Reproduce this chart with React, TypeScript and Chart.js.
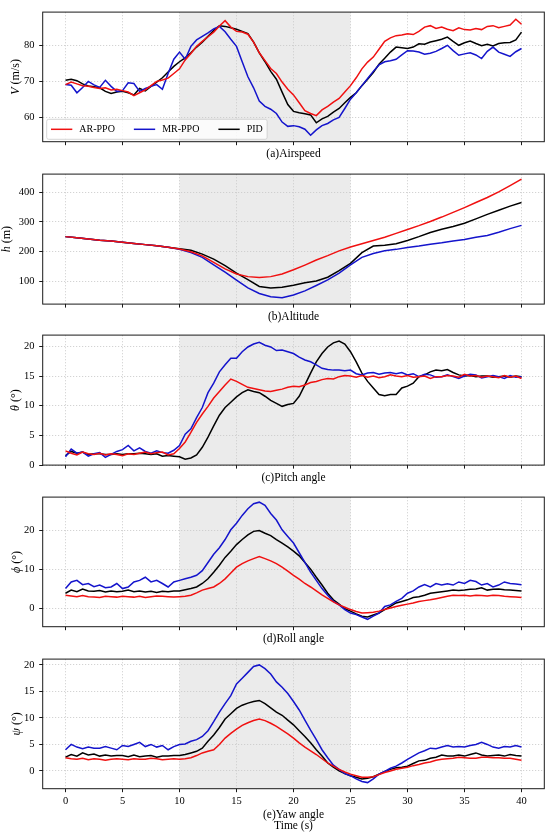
import React, { useEffect, useRef } from 'react';
import { Chart, registerables } from 'chart.js';

Chart.register(...registerables);

const FONT = '"Liberation Serif", "Times New Roman", "DejaVu Serif", serif';

// sampling grids
const tFine = Array.from({ length: 81 }, (_, i) => i * 0.5);
const tCoarse = Array.from({ length: 41 }, (_, i) => i);
const xTicks = [0, 5, 10, 15, 20, 25, 30, 35, 40];
const shadeSpan = [10, 25];

const seriesNames = ['AR-PPO', 'MR-PPO', 'PID'];
const seriesColors = ['#f01010', '#1414cc', '#000000'];

// (a) airspeed, m/s
const airspeedAR = [
  69.1, 69.8, 69.3, 68.8, 68.6, 68.3, 68.0, 68.2, 67.6, 67.8,
  67.4, 67.0, 66.0, 66.8, 67.6, 68.8, 70.0, 70.4, 70.9, 72.2,
  73.5, 76.0, 77.8, 79.8, 81.2, 82.5, 83.8, 85.5, 87.0, 85.2,
  84.0, 83.8, 83.2, 81.0, 78.0, 75.8, 73.6, 72.2, 69.8, 67.8,
  66.2, 64.0, 61.8, 61.0, 60.4, 62.0, 63.0, 64.2, 65.2, 67.0,
  68.8, 71.0, 73.5, 75.4, 76.8, 79.0, 81.2, 82.2, 82.8, 83.0,
  83.3, 83.1, 84.0, 85.2, 85.6, 84.8, 85.2, 84.6, 84.2, 85.0,
  84.5, 84.4, 84.8, 84.5, 85.4, 85.6, 85.0, 85.4, 85.8, 87.4,
  86.0,
];
const airspeedMR = [
  69.1, 68.9, 66.8, 68.3, 70.0, 69.0, 68.3, 70.3, 68.6, 67.2,
  67.4, 69.6, 69.4, 67.2, 68.0, 68.6, 69.1, 67.8, 72.2, 76.2,
  78.2, 76.2, 79.8, 81.6, 82.6, 83.6, 84.7, 85.4, 83.9, 81.8,
  79.8, 75.5, 71.3, 68.2, 64.5, 63.0, 62.2, 61.0, 58.6, 57.4,
  57.6, 57.3, 56.6, 54.9, 56.4, 57.6, 58.2, 59.2, 59.9, 62.4,
  65.0, 66.8, 68.8, 70.8, 72.8, 74.6, 75.5, 75.8, 76.2, 77.4,
  78.6, 78.5, 78.2, 77.6, 77.9, 78.4, 79.2, 80.1, 78.6, 77.3,
  77.7, 78.0, 77.4, 76.4, 78.4, 79.6, 78.2, 77.6, 77.0, 78.3,
  79.2,
];
const airspeedPID = [
  70.3, 70.6, 70.2, 69.3, 68.7, 68.5, 68.2, 67.2, 66.6, 67.0,
  67.2, 66.8, 66.2, 68.0, 67.3, 68.6, 69.8, 71.0, 72.6, 74.2,
  75.5, 76.6, 78.0, 79.6, 81.0, 82.6, 84.2, 85.6, 85.4, 85.0,
  84.6, 84.0, 83.4, 81.0, 78.0, 75.5, 72.8, 70.6, 67.0, 63.5,
  61.6, 61.2, 60.9, 60.6, 58.4, 59.5, 60.2, 61.4, 62.4, 64.0,
  65.5, 66.8, 68.8, 70.6, 72.5, 74.8, 76.5, 78.2, 79.6, 79.4,
  79.2, 79.6, 80.5, 80.4, 81.0, 81.4, 81.8, 82.4, 81.2, 80.1,
  80.8, 81.3, 80.6, 80.0, 80.4, 79.9, 80.6, 80.8, 80.9, 81.6,
  83.8,
];

// (b) altitude, m (1 s steps)
const altitudeAR = [
  250, 246, 242, 238, 235, 231, 227, 223, 219, 214,
  208, 199, 185, 163, 141, 124, 115, 112, 115, 124,
  138, 154, 171, 186, 202, 215, 226, 237, 248, 261,
  274, 287, 301, 316, 332, 348, 365, 382, 401, 422,
  444,
];
const altitudeMR = [
  250, 246, 242, 238, 235, 231, 227, 223, 219, 214,
  207, 196, 180, 155, 130, 103, 77, 58, 47, 44,
  53, 67, 85, 104, 127, 155, 180, 193, 202, 207,
  213, 218, 224, 229, 235, 240, 248, 254, 265, 277,
  288,
];
const altitudePID = [
  250, 246, 242, 238, 235, 231, 227, 223, 219, 214,
  209, 204, 191, 174, 152, 127, 105, 82, 77, 79,
  86, 94, 100, 113, 135, 160, 196, 218, 221, 226,
  237, 250, 264, 275, 284, 295, 310, 325, 339, 353,
  365,
];

// (c) pitch angle, deg
const pitchAR = [
  2.4, 2.0, 1.7, 2.2, 1.9, 1.8, 2.0, 1.7, 1.9, 1.8,
  1.6, 1.9, 1.8, 2.0, 2.2, 1.9, 2.1, 2.2, 1.7, 1.9,
  2.8, 3.9, 5.5, 7.2, 8.6, 9.9, 11.3, 12.4, 13.5, 14.5,
  14.1, 13.6, 13.1, 12.9, 12.7, 12.5, 12.4, 12.6, 12.8, 13.1,
  13.3, 13.2, 13.5, 13.9, 14.1, 14.4, 14.6, 14.5, 14.9, 15.1,
  15.0, 14.8, 15.1, 14.8, 15.0, 14.7, 14.9, 15.2, 15.0, 14.9,
  15.1, 14.8, 14.9, 15.0, 14.6, 14.9, 14.9, 15.1, 15.0, 14.8,
  15.3, 15.0, 15.1, 14.8, 15.0, 14.9, 14.7, 15.1, 14.8, 15.0,
  14.6,
];
const pitchMR = [
  1.4, 2.7, 2.0, 2.2, 1.5, 1.9, 2.1, 1.3, 1.8, 2.3,
  2.6, 3.3, 2.4, 2.9, 2.3, 2.0, 2.4, 2.1, 2.0, 2.5,
  3.3, 5.2, 6.1, 8.0, 9.7, 12.2, 13.8, 15.7, 16.9, 18.0,
  18.0, 19.1, 19.9, 20.4, 20.7, 20.2, 19.9, 19.3, 19.4, 19.1,
  18.8, 18.2, 17.7, 17.4, 16.9, 16.3, 16.1, 16.0, 16.0, 15.9,
  16.0, 15.4, 15.2, 15.5, 15.6, 15.3, 15.5, 15.6, 15.4, 15.6,
  15.2, 15.4, 14.9, 15.3, 15.2, 14.8, 14.9, 15.2, 14.9, 14.6,
  15.0, 15.3, 15.2, 14.7, 14.9, 15.1, 14.9, 14.6, 15.1, 14.8,
  14.9,
];
const pitchPID = [
  1.6, 2.3, 2.0, 2.2, 1.8, 1.9, 1.9, 1.8, 1.8, 1.9,
  1.8, 1.9, 1.9, 2.0, 1.9, 1.8, 1.9, 1.5, 1.6, 1.5,
  1.4, 1.0, 1.2, 1.7, 3.0, 4.7, 6.6, 8.4, 9.7, 10.6,
  11.5, 12.2, 12.7, 12.4, 12.2, 11.6, 10.9, 10.4, 9.9, 10.2,
  10.4, 11.6, 13.5, 15.5, 17.4, 18.8, 19.9, 20.6, 20.9, 20.4,
  19.1, 17.4, 15.5, 14.1, 13.0, 11.9, 11.7, 11.9, 11.9, 13.0,
  13.3, 13.8, 14.9, 15.2, 15.7, 16.0, 15.9, 16.1, 15.6, 15.2,
  15.0, 15.1, 14.9, 15.0, 15.0, 14.8, 14.9, 15.0, 14.8, 15.0,
  14.9,
];

// (d) roll angle, deg
const rollAR = [
  3.3, 3.1, 2.9, 3.2, 2.9, 2.8, 2.7, 3.0, 2.9, 2.8,
  3.0, 2.9, 2.8, 3.0, 2.7, 2.9, 3.1, 3.0, 2.9, 2.8,
  2.9, 3.0, 3.3, 3.9, 4.6, 5.0, 5.4, 6.3, 7.5, 9.0,
  10.5, 11.4, 12.1, 12.7, 13.2, 12.7, 12.1, 11.4, 10.5, 9.5,
  8.4, 7.4, 6.3, 5.4, 4.4, 3.4, 2.5, 1.6, 0.8, 0.2,
  -0.4, -0.9, -1.3, -1.2, -1.1, -0.8, -0.4, 0.0, 0.4, 0.7,
  1.0, 1.3, 1.7, 1.9, 2.1, 2.4, 2.7, 3.0, 3.3, 3.2,
  3.3, 3.1, 3.3, 3.2, 3.1, 3.3, 3.2, 3.0, 2.9, 2.8,
  2.7,
];
const rollMR = [
  5.0, 6.7, 7.1, 6.0, 6.3, 5.5, 5.9, 5.2, 5.4, 6.3,
  5.0, 5.4, 6.7, 7.1, 7.9, 6.7, 7.1, 6.3, 5.4, 6.7,
  7.1, 7.5, 7.9, 8.4, 9.6, 11.7, 13.8, 15.5, 17.6, 20.1,
  21.8, 23.8, 25.5, 26.8, 27.2, 26.4, 24.3, 22.6, 20.1, 18.4,
  16.7, 14.2, 11.7, 9.2, 7.1, 5.0, 3.3, 1.7, 0.8, -0.4,
  -1.3, -1.7, -2.3, -2.9, -2.1, -1.3, 0.4, 0.8, 1.7, 2.5,
  3.8, 4.4, 5.4, 6.0, 5.4, 6.3, 5.9, 6.2, 5.9, 6.7,
  6.3, 7.1, 6.8, 5.9, 6.3, 5.4, 5.9, 6.7, 6.3, 6.2,
  6.0,
];
const rollPID = [
  3.8, 4.6, 4.2, 4.9, 4.4, 4.3, 4.5, 4.1, 4.4, 4.2,
  4.3, 4.6, 4.2, 4.4, 4.1, 4.3, 4.0, 4.3, 4.2, 4.4,
  4.4, 4.7, 5.0, 5.4, 6.3, 7.5, 9.2, 11.0, 13.0, 14.6,
  16.3, 17.6, 18.8, 19.7, 19.9, 19.2, 18.6, 17.6, 16.7, 15.7,
  14.6, 13.4, 11.7, 10.0, 7.9, 5.9, 3.8, 2.1, 1.0, -0.2,
  -0.8, -1.5, -2.1, -2.3, -1.8, -1.3, -0.4, 0.4, 1.3, 1.7,
  2.1, 2.7, 2.9, 3.3, 3.8, 4.0, 4.2, 4.4, 4.6, 4.5,
  4.6, 4.8, 4.9, 5.2, 4.6, 4.8, 4.9, 4.7, 4.6, 4.5,
  4.4,
];

// (e) yaw angle, deg
const yawAR = [
  2.5, 2.3, 2.2, 2.4, 2.1, 2.3, 2.2, 2.0, 2.2, 2.3,
  2.2, 2.1, 2.3, 2.2, 2.2, 2.4, 2.3, 2.1, 2.2, 2.3,
  2.2, 2.3, 2.5, 2.9, 3.4, 3.7, 4.0, 5.0, 6.2, 7.1,
  7.9, 8.6, 9.1, 9.5, 9.8, 9.5, 9.0, 8.4, 7.7, 7.0,
  6.2, 5.3, 4.5, 3.8, 3.1, 2.3, 1.5, 0.9, 0.3, -0.2,
  -0.6, -0.9, -1.2, -1.2, -1.1, -0.7, -0.3, 0.0, 0.3, 0.5,
  0.7, 1.0, 1.2, 1.5, 1.7, 2.0, 2.2, 2.3, 2.4, 2.6,
  2.5, 2.4, 2.4, 2.6, 2.6, 2.5, 2.5, 2.4, 2.4, 2.2,
  2.0,
];
const yawMR = [
  4.0, 5.0, 4.5, 4.2, 4.5, 4.3, 4.3, 4.6, 4.3, 4.0,
  4.8, 4.6, 5.0, 5.4, 4.6, 5.0, 4.5, 4.8, 4.0, 4.6,
  5.0, 5.1, 5.6, 5.9, 6.5, 7.6, 9.3, 11.1, 12.7, 14.2,
  16.4, 17.5, 18.6, 19.7, 20.0, 19.3, 18.3, 16.8, 15.8, 14.6,
  13.1, 11.5, 9.6, 7.7, 5.9, 4.0, 2.5, 1.1, 0.3, -0.5,
  -0.9, -1.5, -2.0, -2.2, -1.5, -0.6, -0.1, 0.5, 0.9, 1.5,
  2.2, 2.8, 3.4, 3.8, 4.3, 4.2, 4.5, 4.8, 4.5, 4.6,
  4.5, 4.8, 5.0, 5.4, 5.0, 4.5, 4.3, 4.6, 4.5, 4.8,
  4.5,
];
const yawPID = [
  2.6, 3.1, 2.8, 3.4, 3.0, 3.2, 2.8, 3.0, 2.8, 2.9,
  2.9, 2.7, 3.0, 2.7, 2.8, 2.9, 2.6, 2.8, 2.8, 2.9,
  2.9, 3.1, 3.4, 3.7, 4.3, 5.6, 6.8, 8.2, 9.8, 10.8,
  11.8, 12.4, 12.8, 13.1, 13.3, 12.7, 11.9, 11.1, 10.5, 9.6,
  8.7, 7.6, 6.5, 5.3, 4.0, 2.8, 1.5, 0.7, 0.0, -0.5,
  -0.9, -1.2, -1.5, -1.4, -1.1, -0.6, -0.1, 0.3, 0.6, 0.7,
  0.9, 1.4, 1.9, 2.0, 2.4, 2.6, 3.0, 2.8, 2.8, 3.0,
  2.8, 3.1, 3.4, 3.0, 2.8, 2.9, 3.0, 2.8, 3.1, 2.9,
  2.8,
];

interface PanelDef {
  title: string[];
  symbol: string;
  unit: string;
  labelX: number;
  yMin: number;
  yMax: number;
  yTicks: number[];
  t: number[];
  series: number[][];
  legend?: boolean;
  xLabels?: boolean;
  plotTop: number;
  canvasTop: number;
  canvasH: number;
}

const PLOT_H = 132.4;
const PLOT_LEFT = 42.7;
const PLOT_RIGHT = 544.3;

const panels: PanelDef[] = [
  {
    title: ['(a)Airspeed'], symbol: 'V', unit: ' (m/s)', labelX: 15.5,
    yMin: 53.1, yMax: 89.4, yTicks: [60, 70, 80],
    t: tFine, series: [airspeedAR, airspeedMR, airspeedPID], legend: true,
    plotTop: 9.3, canvasTop: 1, canvasH: 170,
  },
  {
    title: ['(b)Altitude'], symbol: 'h', unit: ' (m)', labelX: 7,
    yMin: 22.3, yMax: 461, yTicks: [100, 200, 300, 400],
    t: tCoarse, series: [altitudeAR, altitudeMR, altitudePID],
    plotTop: 171.7, canvasTop: 163, canvasH: 170,
  },
  {
    title: ['(c)Pitch angle'], symbol: 'θ', unit: ' (°)', labelX: 15.5,
    yMin: 0, yMax: 21.9, yTicks: [0, 5, 10, 15, 20],
    t: tFine, series: [pitchAR, pitchMR, pitchPID],
    plotTop: 332.7, canvasTop: 324, canvasH: 170,
  },
  {
    title: ['(d)Roll angle'], symbol: 'ϕ', unit: ' (°)', labelX: 16.5,
    yMin: -4.8, yMax: 28.5, yTicks: [0, 10, 20],
    t: tFine, series: [rollAR, rollMR, rollPID],
    plotTop: 494.3, canvasTop: 486, canvasH: 170,
  },
  {
    title: ['(e)Yaw angle', 'Time (s)'], symbol: 'ψ', unit: ' (°)', labelX: 16.5,
    yMin: -3.35, yMax: 21.1, yTicks: [0, 5, 10, 15, 20],
    t: tFine, series: [yawAR, yawMR, yawPID], xLabels: true,
    plotTop: 656.3, canvasTop: 648, canvasH: 190,
  },
];

const decorPlugin = (def: PanelDef) => ({
  id: 'decor',
  beforeDraw(chart: any) {
    const { ctx, chartArea: ca, scales } = chart;
    const x0 = scales.x.getPixelForValue(shadeSpan[0]);
    const x1 = scales.x.getPixelForValue(shadeSpan[1]);
    ctx.save();
    ctx.fillStyle = '#ebebeb';
    ctx.fillRect(x0, ca.top, x1 - x0, ca.bottom - ca.top);
    ctx.restore();
  },
  afterDraw(chart: any) {
    const { ctx, chartArea: ca } = chart;
    ctx.save();
    // frame
    ctx.strokeStyle = '#1a1a1a';
    ctx.lineWidth = 1;
    ctx.strokeRect(ca.left, ca.top, ca.right - ca.left, ca.bottom - ca.top);

    // y label: italic symbol + upright unit
    ctx.translate(def.labelX, (ca.top + ca.bottom) / 2);
    ctx.rotate(-Math.PI / 2);
    ctx.fillStyle = '#000';
    ctx.textBaseline = 'middle';
    ctx.textAlign = 'left';
    ctx.font = `italic 12px ${FONT}`;
    const w1 = ctx.measureText(def.symbol).width;
    ctx.font = `12px ${FONT}`;
    const w2 = ctx.measureText(def.unit).width;
    const sx = -(w1 + w2) / 2;
    ctx.font = `italic 12px ${FONT}`;
    ctx.fillText(def.symbol, sx, 0);
    ctx.font = `12px ${FONT}`;
    ctx.fillText(def.unit, sx + w1, 0);
    ctx.restore();

    // panel title(s) under the axis
    ctx.save();
    ctx.fillStyle = '#000';
    ctx.font = `11.5px ${FONT}`;
    ctx.textAlign = 'center';
    ctx.textBaseline = 'middle';
    const cx = (ca.left + ca.right) / 2;
    const firstY = def.xLabels ? ca.bottom + 26 : ca.bottom + 12.5;
    def.title.forEach((line, i) => ctx.fillText(line, cx, firstY + i * 11.5));

    // legend inside the plot, lower left
    if (def.legend) {
      ctx.font = `10px ${FONT}`;
      const pad = 4.3;
      const handle = 21.3;
      const gap = 7;
      const colSp = 19;
      const widths = seriesNames.map((n) => ctx.measureText(n).width);
      const boxW = pad * 2 + widths.reduce((s, w) => s + handle + gap + w, 0) + colSp * (seriesNames.length - 1);
      const boxH = 20;
      const bx = ca.left + 4;
      const by = ca.bottom - 2.4 - boxH;
      ctx.fillStyle = 'rgba(255,255,255,0.8)';
      ctx.strokeStyle = '#cccccc';
      ctx.lineWidth = 0.8;
      ctx.beginPath();
      ctx.roundRect(bx, by, boxW, boxH, 2);
      ctx.fill();
      ctx.stroke();
      let x = bx + pad;
      const cy = by + boxH / 2;
      seriesNames.forEach((name, i) => {
        ctx.strokeStyle = seriesColors[i];
        ctx.lineWidth = 1.5;
        ctx.beginPath();
        ctx.moveTo(x, cy);
        ctx.lineTo(x + handle, cy);
        ctx.stroke();
        ctx.fillStyle = '#000';
        ctx.textAlign = 'left';
        ctx.fillText(name, x + handle + gap, cy + 0.5);
        x += handle + gap + widths[i] + colSp;
      });
    }
    ctx.restore();
  },
});

const Panel: React.FC<{ def: PanelDef }> = ({ def }) => {
  const ref = useRef<HTMLCanvasElement>(null);

  useEffect(() => {
    if (!ref.current) return;
    const padTop = def.plotTop - def.canvasTop;
    const xHeight = def.canvasH - padTop - PLOT_H;
    const grid = {
      color: '#c8c8c8',
      lineWidth: 0.8,
      drawTicks: true,
      tickLength: 3.5,
      tickColor: '#1a1a1a',
      tickWidth: 1,
      tickBorderDash: [],
    };
    // in Chart.js 4 the grid-line dash lives under `border`
    const border = { display: false, dash: [1.2, 1.8] };
    const chart = new Chart(ref.current, {
      type: 'line',
      data: {
        datasets: def.series.map((vals, i) => ({
          label: seriesNames[i],
          data: def.t.map((x, j) => ({ x, y: vals[j] })),
          borderColor: seriesColors[i],
          borderWidth: 1.5,
          pointRadius: 0,
          tension: 0,
          fill: false,
        })),
      },
      options: {
        animation: false,
        responsive: false,
        events: [],
        layout: { padding: { left: 0, right: 550 - PLOT_RIGHT, top: padTop, bottom: 0 } },
        plugins: { legend: { display: false }, tooltip: { enabled: false } },
        scales: {
          x: {
            type: 'linear',
            min: -2,
            max: 42,
            grid,
            border,
            ticks: {
              display: !!def.xLabels,
              color: '#000',
              padding: 2.5,
              font: { family: FONT, size: 10.5 },
            },
            afterBuildTicks: (s: any) => {
              s.ticks = xTicks.map((v) => ({ value: v }));
            },
            afterFit: (s: any) => {
              s.height = xHeight;
            },
          },
          y: {
            type: 'linear',
            min: def.yMin,
            max: def.yMax,
            grid,
            border,
            ticks: {
              color: '#000',
              padding: 4.8,
              font: { family: FONT, size: 10.5 },
            },
            afterBuildTicks: (s: any) => {
              s.ticks = def.yTicks.map((v) => ({ value: v }));
            },
            afterFit: (s: any) => {
              s.width = PLOT_LEFT;
            },
          },
        },
      },
      plugins: [decorPlugin(def)],
    } as any);

    return () => {
      chart.destroy();
    };
  }, [def]);

  return (
    <canvas
      ref={ref}
      width={550}
      height={def.canvasH}
      style={{ position: 'absolute', left: 0, top: def.canvasTop, width: 550, height: def.canvasH }}
    />
  );
};

export default function App() {
  return (
    <div style={{ position: 'absolute', left: 0, top: 0, width: 550, height: 838, background: '#fff' }}>
      {panels.map((p, i) => (
        <Panel key={i} def={p} />
      ))}
    </div>
  );
}
